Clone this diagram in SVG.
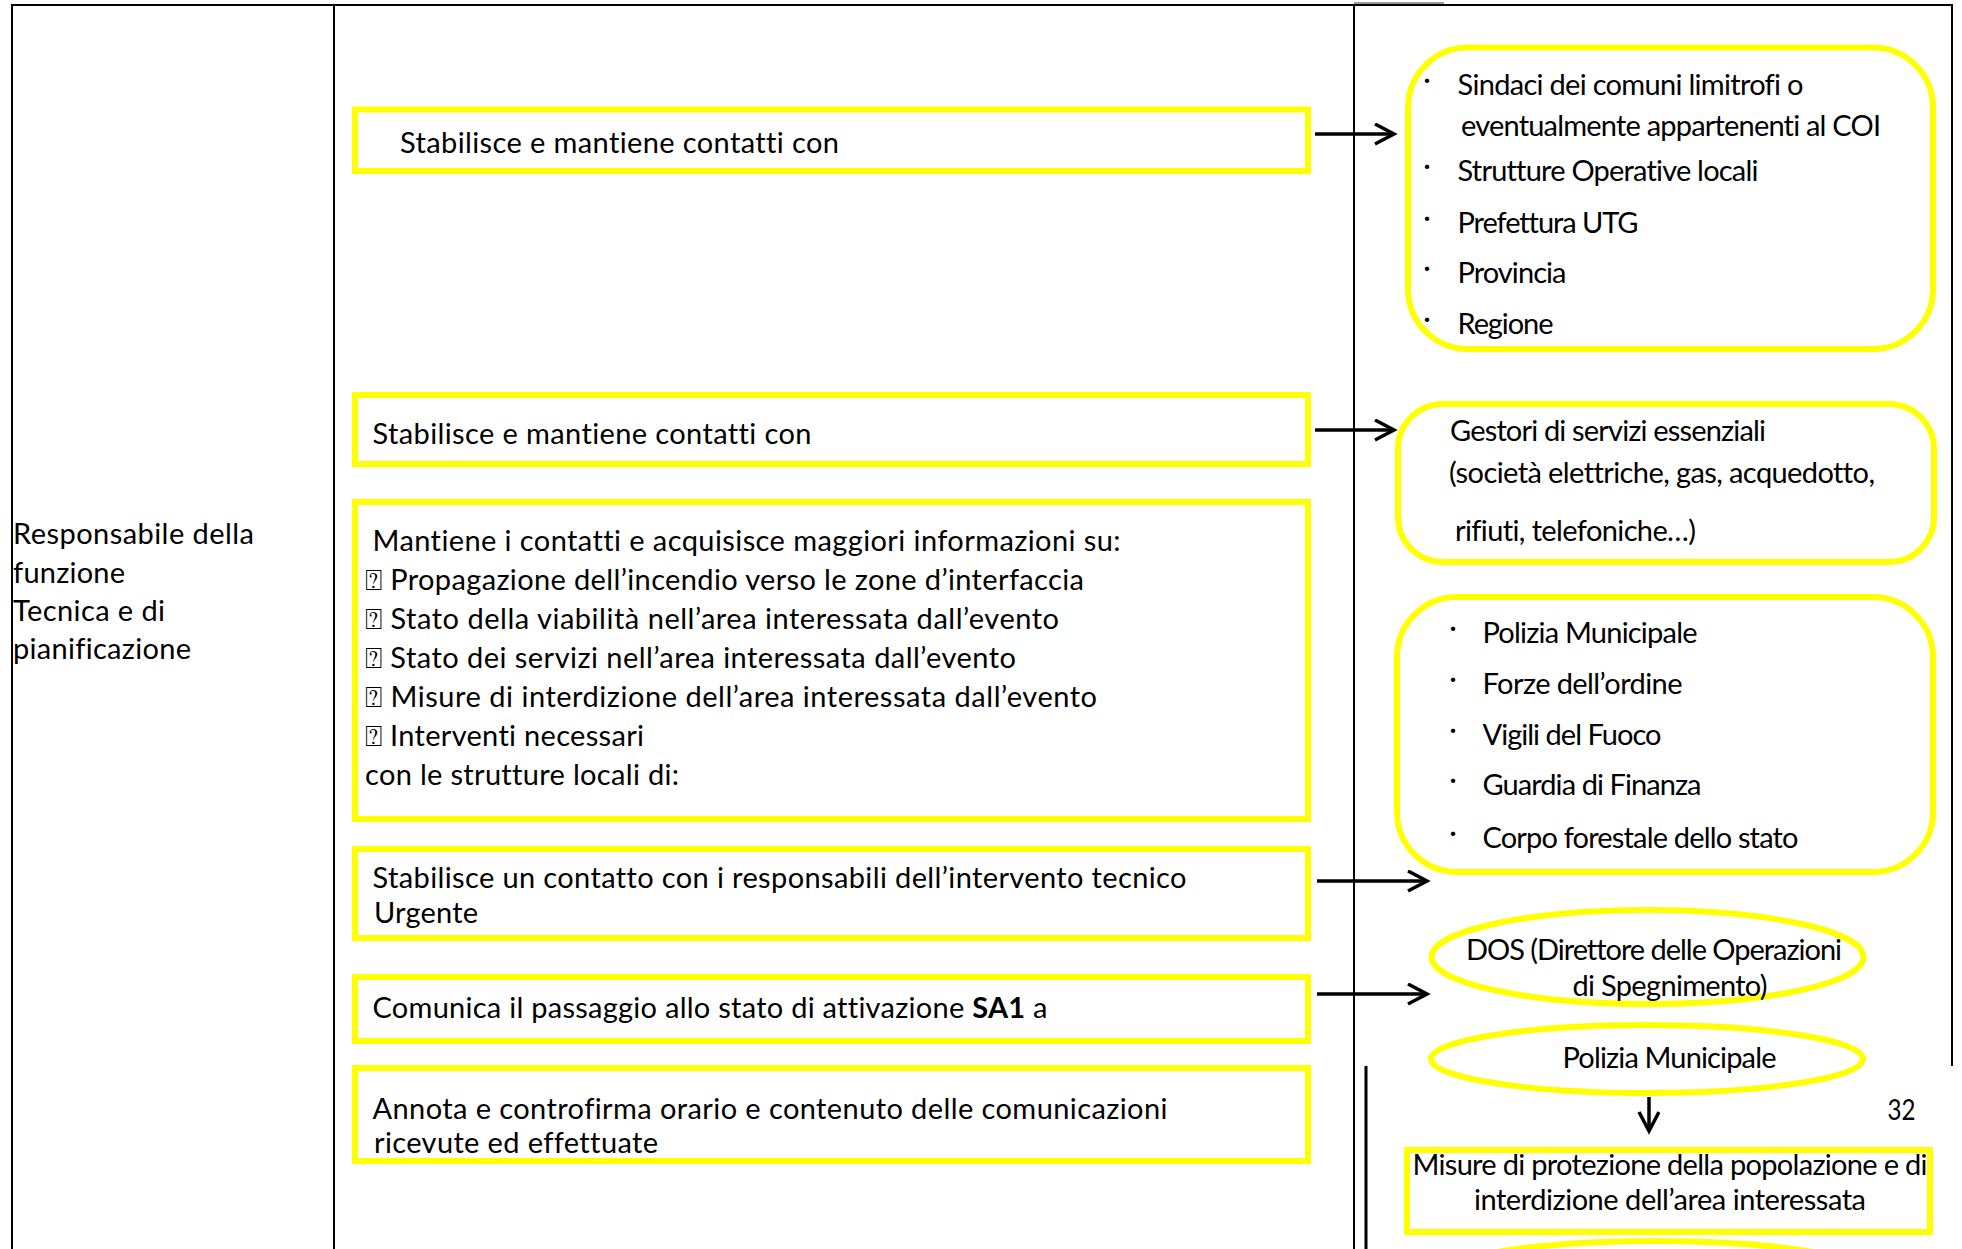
<svg xmlns="http://www.w3.org/2000/svg" width="1962" height="1249" viewBox="0 0 1962 1249">
<style>
.t{font-family:Lato,"Open Sans","Liberation Sans","DejaVu Sans",sans-serif;font-size:29px;fill:#000;font-variant-ligatures:none;font-feature-settings:"liga" 0}
.b{font-weight:bold}
.box{fill:none;stroke:#FFFF00;stroke-width:6}
.grid{stroke:#000;stroke-width:2;fill:none}
.conn{stroke:#000;stroke-width:3.5;fill:none;marker-end:url(#ah)}
</style>
<defs>
<marker id="ah" markerUnits="userSpaceOnUse" markerWidth="24" markerHeight="24" refX="20" refY="11" orient="auto" viewBox="0 0 24 24">
<path d="M1,1 L20,11 L1,21" fill="none" stroke="#000" stroke-width="3.5"/>
</marker>
</defs>
<rect width="1962" height="1249" fill="#fff"/>
<g id="table">
<line class="grid" x1="1354" y1="3" x2="1444" y2="3" style="stroke:#999"/>
<line class="grid" x1="11" y1="5" x2="1953" y2="5"/>
<line class="grid" x1="12" y1="5" x2="12" y2="1249"/>
<line class="grid" x1="334" y1="5" x2="334" y2="1249"/>
<line class="grid" x1="1354" y1="5" x2="1354" y2="1249"/>
<line class="grid" x1="1952" y1="5" x2="1952" y2="1066"/>
<line class="grid" x1="1366" y1="1066" x2="1366" y2="1249" style="stroke-width:3"/>
</g>
<g id="role">
<text class="t" x="13" y="544" textLength="241">Responsabile della</text>
<text class="t" x="13" y="583" textLength="112">funzione</text>
<text class="t" x="13" y="621" textLength="152">Tecnica e di</text>
<text class="t" x="13" y="659" textLength="178">pianificazione</text>
</g>
<g id="box1">
<rect class="box" x="355" y="109.5" width="953" height="61.5"/>
<text class="t" x="400" y="152.5" textLength="439">Stabilisce e mantiene contatti con</text>
</g>
<g id="box2">
<rect class="box" x="355" y="395" width="953" height="69"/>
<text class="t" x="372.5" y="444" textLength="439">Stabilisce e mantiene contatti con</text>
</g>
<g id="box3">
<rect class="box" x="355" y="502" width="953" height="317"/>
<text class="t" x="372.5" y="551" textLength="748">Mantiene i contatti e acquisisce maggiori informazioni su:</text>
<text class="t" x="365" y="590" textLength="719">⍰ Propagazione dell’incendio verso le zone d’interfaccia</text>
<text class="t" x="365" y="629" textLength="694">⍰ Stato della viabilità nell’area interessata dall’evento</text>
<text class="t" x="365" y="668" textLength="651">⍰ Stato dei servizi nell’area interessata dall’evento</text>
<text class="t" x="365" y="707" textLength="732">⍰ Misure di interdizione dell’area interessata dall’evento</text>
<text class="t" x="365" y="746" textLength="279">⍰ Interventi necessari</text>
<text class="t" x="365" y="785" textLength="314">con le strutture locali di:</text>
</g>
<g id="box4">
<rect class="box" x="355" y="849" width="953" height="89"/>
<text class="t" x="372.5" y="887.5" textLength="814">Stabilisce un contatto con i responsabili dell’intervento tecnico</text>
<text class="t" x="374" y="922.5" textLength="104">Urgente</text>
</g>
<g id="box5">
<rect class="box" x="355" y="977" width="953" height="64"/>
<text class="t" x="372.5" y="1017.5" textLength="675">Comunica il passaggio allo stato di attivazione <tspan class="b">SA1</tspan> a</text>
</g>
<g id="box6">
<rect class="box" x="355" y="1068" width="953" height="93"/>
<text class="t" x="372.5" y="1119" textLength="795">Annota e controfirma orario e contenuto delle comunicazioni</text>
<text class="t" x="374" y="1152.5" textLength="284">ricevute ed effettuate</text>
</g>
<g id="contacts1">
<rect class="box" x="1408" y="47.5" width="525" height="301.5" rx="60" ry="60"/>
<text class="t" x="1427" y="89" text-anchor="middle">·</text>
<text class="t" x="1457.5" y="95" textLength="346">Sindaci dei comuni limitrofi o</text>
<text class="t" x="1461" y="136" textLength="420">eventualmente appartenenti al COI</text>
<text class="t" x="1427" y="175" text-anchor="middle">·</text>
<text class="t" x="1457.5" y="181" textLength="301">Strutture Operative locali</text>
<text class="t" x="1427" y="226.5" text-anchor="middle">·</text>
<text class="t" x="1457.5" y="232.5" textLength="181">Prefettura UTG</text>
<text class="t" x="1427" y="276.5" text-anchor="middle">·</text>
<text class="t" x="1457.5" y="282.5" textLength="109">Provincia</text>
<text class="t" x="1427" y="328" text-anchor="middle">·</text>
<text class="t" x="1457.5" y="334" textLength="96">Regione</text>
</g>
<g id="contacts2">
<rect class="box" x="1398" y="404" width="536" height="158" rx="45" ry="45"/>
<text class="t" x="1450" y="441" textLength="316">Gestori di servizi essenziali</text>
<text class="t" x="1449" y="482.5" textLength="426">(società elettriche, gas, acquedotto,</text>
<text class="t" x="1455" y="541" textLength="241">rifiuti, telefoniche…)</text>
</g>
<g id="contacts3">
<rect class="box" x="1397" y="597" width="536" height="275" rx="60" ry="60"/>
<text class="t" x="1453" y="636.5" text-anchor="middle">·</text>
<text class="t" x="1482.5" y="642.5" textLength="215">Polizia Municipale</text>
<text class="t" x="1453" y="688" text-anchor="middle">·</text>
<text class="t" x="1482.5" y="694" textLength="200">Forze dell’ordine</text>
<text class="t" x="1453" y="739" text-anchor="middle">·</text>
<text class="t" x="1482.5" y="745" textLength="179">Vigili del Fuoco</text>
<text class="t" x="1453" y="789" text-anchor="middle">·</text>
<text class="t" x="1482.5" y="795" textLength="219">Guardia di Finanza</text>
<text class="t" x="1453" y="841.5" text-anchor="middle">·</text>
<text class="t" x="1482.5" y="847.5" textLength="316">Corpo forestale dello stato</text>
</g>
<g id="dos">
<ellipse class="box" cx="1647.5" cy="957" rx="216" ry="47"/>
<text class="t" x="1466" y="960" textLength="376">DOS (Direttore delle Operazioni</text>
<text class="t" x="1572.5" y="996" textLength="195">di Spegnimento)</text>
</g>
<g id="polizia">
<ellipse class="box" cx="1647" cy="1059" rx="216" ry="34"/>
<text class="t" x="1562.5" y="1067.5" textLength="214">Polizia Municipale</text>
</g>
<g id="page-number">
<text class="t" x="1887.5" y="1120" textLength="28" lengthAdjust="spacingAndGlyphs">32</text>
</g>
<g id="misure">
<rect class="box" x="1407" y="1150" width="523" height="82"/>
<text class="t" x="1412.5" y="1175" textLength="515">Misure di protezione della popolazione e di</text>
<text class="t" x="1474" y="1210" textLength="392">interdizione dell’area interessata</text>
</g>
<g id="next-ellipse">
<ellipse class="box" cx="1655" cy="1281" rx="230" ry="40"/>
</g>
<g id="connectors">
<line class="conn" x1="1315" y1="134" x2="1394" y2="134"/>
<line class="conn" x1="1315" y1="430" x2="1394" y2="430"/>
<line class="conn" x1="1317" y1="881" x2="1427" y2="881"/>
<line class="conn" x1="1317" y1="994" x2="1427" y2="994"/>
<line class="conn" x1="1649" y1="1097" x2="1649" y2="1131"/>
</g>
</svg>
